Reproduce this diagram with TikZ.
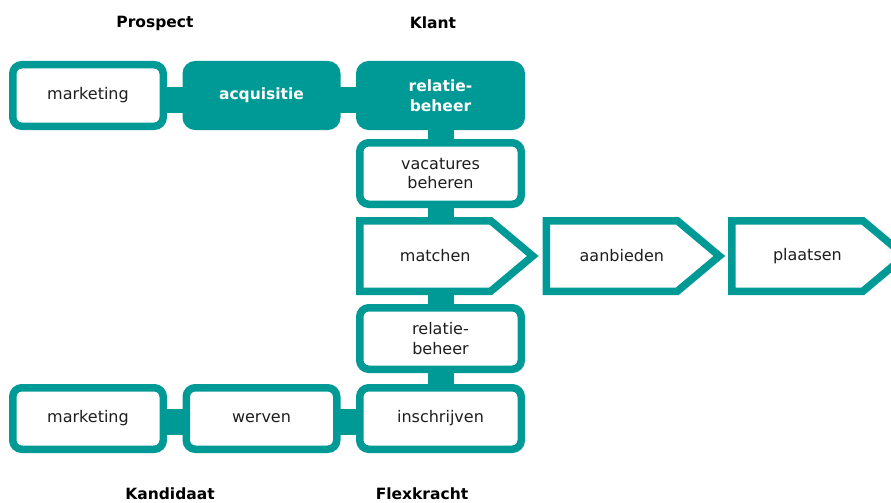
\documentclass[tikz,border=0pt]{standalone}
\usepackage{fontspec}
\setmainfont{DejaVu Sans}
\usetikzlibrary{positioning,shapes.symbols,backgrounds}
\definecolor{vkteal}{RGB}{0,154,150}
\definecolor{vktext}{RGB}{30,30,30}
\tikzset{
  stap/.style={draw=vkteal,line width=7.5pt,fill=white,rounded corners=9pt,minimum height=61.5pt,
    text=vktext,font=\fontsize{16}{19.5}\selectfont,align=center,inner sep=0pt},
  links/.style={stap,minimum width=150.5pt},
  kolom/.style={stap,minimum width=161.5pt},
  vol/.style={fill=vkteal,text=white,font=\bfseries\fontsize{15.5}{19.5}\selectfont},
  pijl/.style={signal,signal to=east,signal pointer angle=80,draw=vkteal,line width=7.5pt,fill=white,
    minimum height=70.5pt,minimum width=173pt,text=vktext,font=\fontsize{16}{19.5}\selectfont,inner sep=0pt,
    execute at begin node=\hspace*{20pt}},
  balk/.style={draw=vkteal,line width=26pt},
  kop/.style={font=\bfseries\fontsize{15.5}{18}\selectfont,text=black}
}
\begin{document}
\begin{tikzpicture}[x=1pt,y=1pt]
    \useasboundingbox (0,0) rectangle (891,-503);
    \node[links] (mk1) at (88,-95.5) {marketing};
    \node[links,vol] (acq) [right=15.5pt of mk1] {acquisitie};
    \node[kolom,vol] (rel1) [right=15.5pt of acq] {relatie-\\beheer};
    \node[kolom] (vac) [below=9pt of rel1] {vacatures\\beheren};
    \node[pijl] (match) [below=9pt of vac.south west,anchor=north west] {matchen};
    \node[pijl] (aanb) [right=4pt of match] {aanbieden};
    \node[pijl] (plaats) [right=3pt of aanb] {plaatsen};
    \node[kolom] (rel2) [below=9pt of match.south west,anchor=north west] {relatie-\\beheer};
    \node[kolom] (insch) [below=11pt of rel2] {inschrijven};
    \node[links] (werv) [left=15.5pt of insch] {werven};
    \node[links] (mk2) [left=15.5pt of werv] {marketing};
    % verbindingen
    \begin{scope}[on background layer]
    \draw[balk] ([yshift=-4pt]mk1.center) -- ([yshift=-4pt]acq.center);
    \draw[balk] ([yshift=-4pt]acq.center) -- ([yshift=-4pt]rel1.center);
    \draw[balk] (rel1) -- (vac);
    \draw[balk] (vac) -- (vac |- match);
    \draw[balk] (rel2 |- match) -- (rel2);
    \draw[balk] (rel2) -- (insch);
    \draw[balk] ([yshift=-3pt]mk2.center) -- ([yshift=-3pt]werv.center);
    \draw[balk] ([yshift=-3pt]werv.center) -- ([yshift=-3pt]insch.center);
    \end{scope}
    \node[kop] (prospect) at (155,-23) {Prospect};
    \node[kop] (klant) at (433,-23) {Klant};
    \node[kop] (kandidaat) at (170,-493.5) {Kandidaat};
    \node[kop] (flexkracht) at (422,-493.5) {Flexkracht};
\end{tikzpicture}
\end{document}
